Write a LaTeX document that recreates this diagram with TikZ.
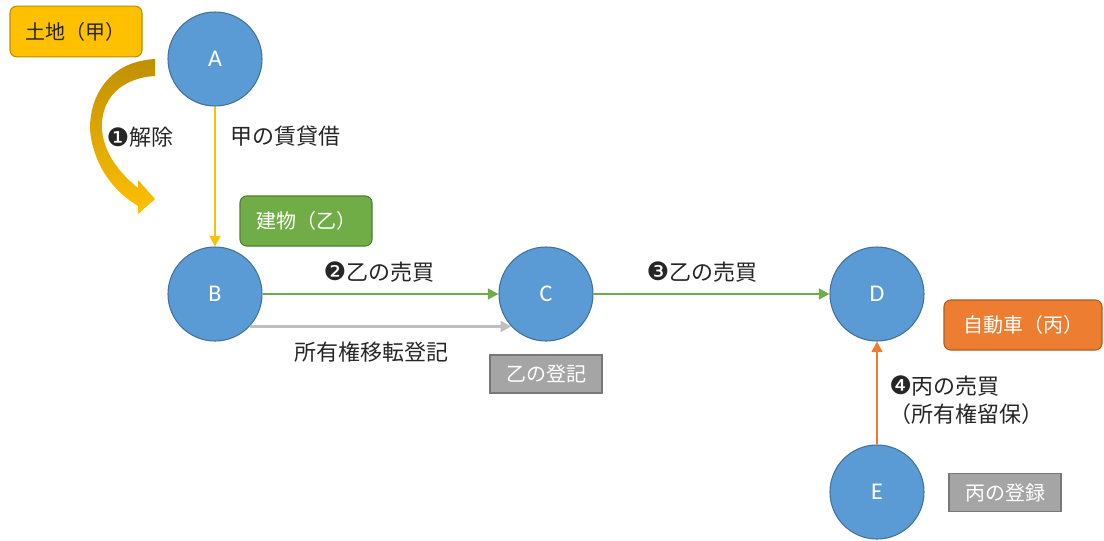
\documentclass[tikz,border=0pt]{standalone}
\usepackage{fontspec}
\setmainfont{Noto Sans CJK JP}
\newfontfamily\lat{Carlito}
\newfontfamily\dv{DejaVu Sans}
\usetikzlibrary{arrows.meta}
\definecolor{cblue}{HTML}{5B9BD5}
\definecolor{cblueb}{HTML}{41719C}
\definecolor{cyel}{HTML}{FFC000}
\definecolor{cyelb}{HTML}{BC8C00}
\definecolor{cdark}{HTML}{BF9000}
\definecolor{cgreen}{HTML}{70AD47}
\definecolor{cgreenb}{HTML}{507E32}
\definecolor{corange}{HTML}{ED7D31}
\definecolor{coraneb}{HTML}{AE5A21}
\definecolor{cgray}{HTML}{A5A5A5}
\definecolor{cgrayb}{HTML}{787878}
\definecolor{cline}{HTML}{BFBFBF}
\definecolor{ctext}{HTML}{262626}
\newcommand{\numb}[1]{{\dv\fontsize{19}{21}\selectfont\raisebox{-0.5pt}{#1}}}
\begin{document}
\begin{tikzpicture}[x=0.75pt,y=-0.75pt,
  party/.style={circle,fill=cblue,draw=cblueb,line width=0.8pt,minimum size=70.5pt,inner sep=0pt,text=white,font=\lat\fontsize{18}{20}\selectfont},
  tag/.style={draw,line width=0.8pt,inner sep=0pt,font=\fontsize{15}{18}\selectfont},
  lbl/.style={text=ctext,font=\fontsize{16.5}{21}\selectfont,inner sep=0pt},
  tip/.style={-{Triangle[length=8pt,width=8pt]}}
]
\useasboundingbox (0,0) rectangle (1104,540);
% parties
\node[party] (A) at (215,59) {A};
\node[party] (B) at (215,294) {B};
\node[party] (C) at (546,294) {C};
\node[party] (D) at (877,294) {D};
\node[party] (E) at (877,492) {E};
% tags
\node[tag,fill=cyel,draw=cyelb,rounded corners=5pt,minimum width=99pt,minimum height=38pt,text=ctext] (t1) at (76,31.5) {土地（甲）};
\node[tag,fill=cgreen,draw=cgreenb,rounded corners=5pt,minimum width=99pt,minimum height=37.5pt,text=white] (t2) at (306,221) {建物（乙）};
\node[tag,fill=cgray,draw=cgrayb,minimum width=84pt,minimum height=28.5pt,text=white] (t3) at (546,374) {乙の登記};
\node[tag,fill=corange,draw=coraneb,rounded corners=5pt,minimum width=118.5pt,minimum height=37.5pt,text=white] (t4) at (1023,325) {自動車（丙）};
\node[tag,fill=cgray,draw=cgrayb,minimum width=84pt,minimum height=29pt,text=white] (t5) at (1005,492.5) {丙の登録};
% connectors
\draw[tip,cyel,line width=2.1pt] (A) -- (B);
\draw[tip,cgreen,line width=2.1pt] (B) -- (C);
\draw[tip,cgreen,line width=2.1pt] (C) -- (D);
\draw[tip,cline,line width=1.8pt] (B.-43) -- (C.223);
\draw[tip,corange,line width=2.1pt] (E) -- (D);
% curved block arrow
\shade[top color=cdark,bottom color=cyel,shading angle=0]
  (155,59) .. controls (100,62) and (86,110) .. (91,138)
  .. controls (97,170) and (115,192) .. (138,206)
  -- (138,214) -- (155,199) -- (138,180) -- (138,188)
  .. controls (118,172) and (104,152) .. (102,130)
  .. controls (100,100) and (120,78) .. (155,76) -- cycle;
% labels
\node[lbl] (l1) at (140,137) {\numb{❶}解除};
\node[lbl] (l2) at (285,136) {甲の賃貸借};
\node[lbl] (l3) at (379,272) {\numb{❷}乙の売買};
\node[lbl] (l4) at (702,272) {\numb{❸}乙の売買};
\node[lbl] (l5) at (371,352) {所有権移転登記};
\node[lbl,anchor=west,align=left] (l6) at (889,400) {\numb{❹}丙の売買\\（所有権留保）};
\end{tikzpicture}
\end{document}
